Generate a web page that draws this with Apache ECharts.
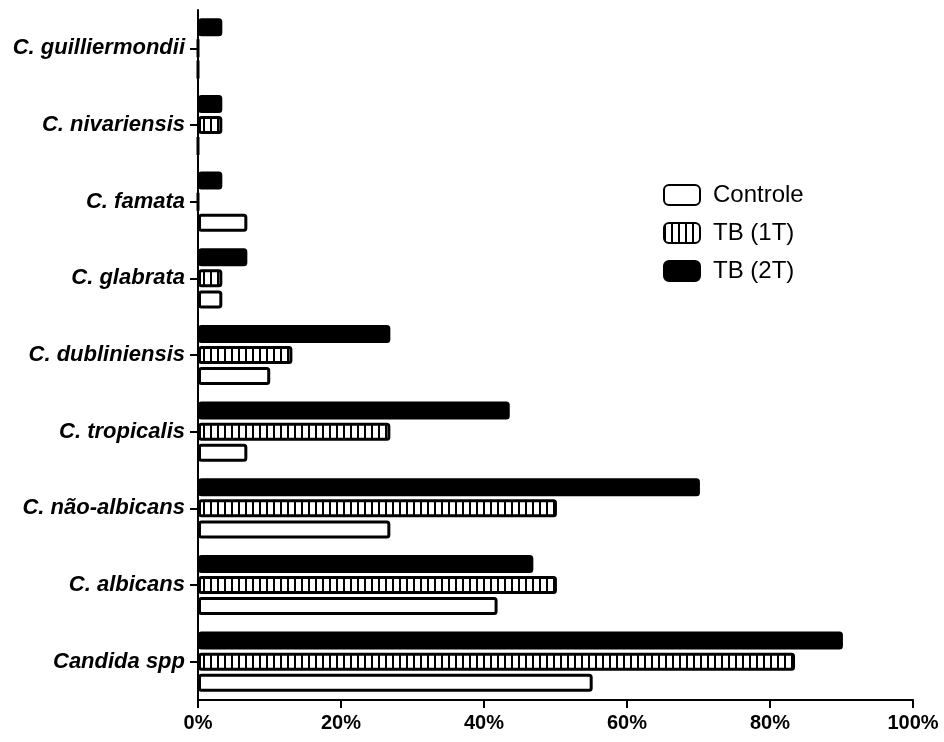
<!DOCTYPE html>
<html>
<head>
<meta charset="utf-8">
<script src="https://cdn.jsdelivr.net/npm/echarts@6/dist/echarts.min.js"></script>
<style>
html,body{margin:0;padding:0;background:#fff;}
#chart{width:944px;height:742px;}
</style>
</head>
<body>
<div id="chart"></div>
<script>
var categories = ['Candida spp','C. albicans','C. não-albicans','C. tropicalis','C. dubliniensis','C. glabrata','C. famata','C. nivariensis','C. guilliermondii'];
var controle = [55.2, 41.9, 26.9, 6.9, 10.1, 3.4, 6.9, 0, 0];
var tb1t = [83.5, 50.2, 50.2, 26.9, 13.2, 3.4, 0, 3.4, 0];
var tb2t = [90.2, 46.9, 70.2, 43.6, 26.9, 6.9, 3.4, 3.4, 3.4];
var xTicks = [0, 20, 40, 60, 80, 100];

var pc = document.createElement('canvas');
pc.width = 7; pc.height = 10;
var ctx = pc.getContext('2d');
ctx.fillStyle = '#fff'; ctx.fillRect(0,0,7,10);
ctx.fillStyle = '#000'; ctx.fillRect(0,0,2,10);

var chart = echarts.init(document.getElementById('chart'));
var font = 'Liberation Sans, Arial, sans-serif';
var bstyle = {borderColor:'#000', borderWidth:3, borderRadius:2};
chart.setOption({
  animation:false,
  backgroundColor:'#fff',
  grid:{left:198, right:31, top:10, bottom:42, containLabel:false},
  legend:{
    orient:'vertical', left:663, top:183, padding:0, itemWidth:36, itemHeight:20, itemGap:14,
    data:['Controle','TB (1T)','TB (2T)'],
    textStyle:{fontFamily:font, fontSize:24, color:'#000', padding:[0,0,0,8]}
  },
  xAxis:{
    type:'value', min:0, max:100, interval:20,
    axisLine:{show:true, lineStyle:{color:'#000', width:2, type:[3,1]}},
    axisTick:{show:true, length:8, lineStyle:{color:'#000', width:2}},
    splitLine:{show:false},
    axisLabel:{formatter:function(v){return xTicks.indexOf(v)>=0 ? v+'%' : '';}, fontFamily:font, fontWeight:'bold', fontSize:20, color:'#000', margin:13}
  },
  yAxis:{
    type:'category', data:categories,
    axisLine:{show:true, lineStyle:{color:'#000', width:2}},
    axisTick:{show:true, alignWithLabel:true, length:8, lineStyle:{color:'#000', width:2}},
    axisLabel:{fontFamily:font, fontWeight:'bold', fontStyle:'italic', fontSize:22, color:'#000', margin:13}
  },
  series:[
    {name:'TB (2T)', type:'bar', data:tb2t, barWidth:18, barGap:'17%', itemStyle:Object.assign({color:'#000'}, bstyle)},
    {name:'TB (1T)', type:'bar', data:tb1t, barWidth:18, barGap:'17%', itemStyle:Object.assign({color:{image:pc, repeat:'repeat'}}, bstyle)},
    {name:'Controle', type:'bar', data:controle, barWidth:18, barGap:'17%', itemStyle:Object.assign({color:'#fff'}, bstyle)}
  ]
});
</script>
</body>
</html>
